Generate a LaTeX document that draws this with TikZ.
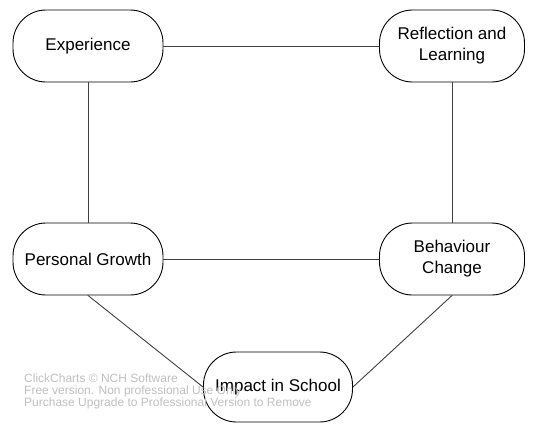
\documentclass[tikz,border=0pt]{standalone}
\usepackage{fontspec}
\setmainfont{Liberation Sans}
\usepackage{tikz}

\begin{document}
\begin{tikzpicture}[line cap=round,line join=round,x=1pt,y=-1pt,
  stage/.style={draw=black,line width=0.9pt,rounded corners=33pt,minimum width=150pt,minimum height=72pt,align=center,font=\fontsize{17}{21}\selectfont,inner sep=2pt},
  link/.style={draw=black!75,line width=0.9pt}]
\useasboundingbox (0,0) rectangle (553,424);
\node[stage] (exp) at (88,46) {Experience};
\node[stage,minimum width=145pt] (refl) at (452,46) {Reflection and\\Learning};
\node[stage] (growth) at (88,259) {Personal Growth};
\node[stage,minimum width=145pt] (behav) at (452,259) {Behaviour\\Change};
\node[stage,minimum width=149pt,minimum height=70pt] (impact) at (278,387) {Impact in School};
% watermark
\node[anchor=north west,text=black!25,align=left,font=\fontsize{12}{12}\selectfont,inner sep=0pt] (mark) at (24,374) {ClickCharts \textcopyright{} NCH Software\\Free version. Non professional Use Only\\Purchase Upgrade to Professional Version to Remove};
\draw [link] (exp.east) -- (refl.west);
\draw [link] (exp.south) -- (growth.north);
\draw [link] (refl.south) -- (behav.north);
\draw [link] (growth.east) -- (behav.west);
\draw [link] (growth.south) -- (impact.west);
\draw [link] (behav.south) -- (impact.east);
\end{tikzpicture}
\end{document}
